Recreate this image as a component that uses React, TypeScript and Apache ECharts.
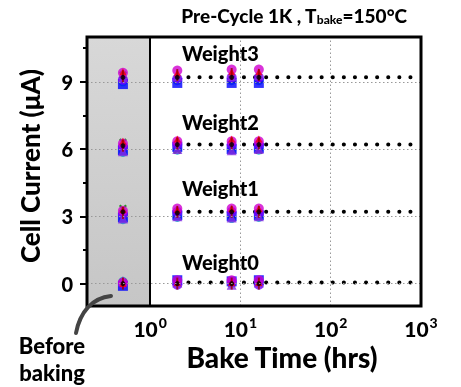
import React, { useEffect, useRef } from 'react';
import * as echarts from 'echarts';

const bakeTimes = [0.5, 2, 8, 16];
const weightNames = ['Weight0', 'Weight1', 'Weight2', 'Weight3'];
const retentionLevels = [0.05, 3.2, 6.2, 9.2];
const projectionStart = 2;
const projectionEnd = 1000;
const yTicks = [0, 3, 6, 9];
const yMinorTicks = [1.5, 4.5, 7.5, 10.5];
const xTicks = [1, 10, 100, 1000];
const gridLinesX = [10, 100];
const bakeStart = 1;

// rows = Weight0..Weight3, columns = bakeTimes
const cellCyan = [[0.1, 0.15, 0.05, 0.1], [2.85, 2.95, 2.9, 2.95], [5.85, 5.95, 5.95, 5.95], [9.0, 9.05, 9.05, 9.05]];
const cellGreen = [[0.05, 0.0, 0.0, 0.0], [3.35, 3.05, 3.05, 3.05], [6.3, 5.95, 5.95, 5.95], [9.3, 9.1, 9.1, 9.1]];
const cellBlue = [[-0.1, 0.15, 0.1, 0.15], [2.95, 3.05, 3.0, 3.05], [5.95, 6.1, 6.0, 6.05], [8.9, 8.95, 8.95, 8.95]];
const cellPurple = [[0.0, -0.05, 0.05, -0.05], [3.1, 3.2, 3.2, 3.15], [6.1, 6.2, 6.2, 6.2], [9.1, 9.15, 9.2, 9.2]];
const cellViolet = [[0.1, 0.05, -0.05, 0.05], [2.9, 3.0, 2.95, 3.0], [5.9, 6.0, 5.95, 6.0], [9.2, 9.25, 9.25, 9.3]];
const cellMagenta = [[0.05, 0.15, 0.15, 0.15], [3.25, 3.35, 3.35, 3.35], [6.25, 6.35, 6.35, 6.35], [9.4, 9.5, 9.55, 9.55]];
const cellRed = [[0.0, 0.05, 0.05, 0.05], [3.3, 3.3, 3.35, 3.35], [6.35, 6.45, 6.45, 6.45], [9.45, 9.4, 9.45, 9.45]];
const cellDarkRed = [[0.0, 0.0, 0.0, 0.0], [3.15, 3.2, 3.2, 3.2], [6.15, 6.25, 6.25, 6.25], [9.25, 9.3, 9.35, 9.3]];
const cellBlack = [[0.0, 0.0, 0.0, 0.0], [3.2, 3.15, 3.2, 3.2], [6.15, 6.2, 6.2, 6.2], [9.2, 9.2, 9.2, 9.2]];

const FONT = 'Lato';

function toPoints(rows: number[][]) {
  const pts: number[][] = [];
  rows.forEach((row) => row.forEach((v, i) => pts.push([bakeTimes[i], v])));
  return pts;
}

export default function App() {
  const ref = useRef<HTMLDivElement>(null);
  useEffect(() => {
    if (!ref.current) return;
    const chart = echarts.init(ref.current, null, { renderer: 'svg' });
    const gl = 87, gt = 37, gr = 421, gb = 306;

    const cells = [
      { name: 'cyan', data: cellCyan, color: '#00b0c8', symbol: 'circle', size: 9 },
      { name: 'green', data: cellGreen, color: '#008000', symbol: 'path://M0,4L4,0L5,1L1,5ZM0,1L1,0L5,4L4,5Z', size: 8 },
      { name: 'blue', data: cellBlue, color: '#0000ff', symbol: 'rect', size: 10 },
      { name: 'purple', data: cellPurple, color: '#7a00ff', symbol: 'circle', size: 10 },
      { name: 'violet', data: cellViolet, color: '#8a2be2', symbol: 'triangle', size: 10 },
      { name: 'magenta', data: cellMagenta, color: '#d000d0', symbol: 'circle', size: 10 },
      { name: 'red', data: cellRed, color: '#ff0000', symbol: 'triangle', size: 7 },
      { name: 'darkred', data: cellDarkRed, color: '#990000', symbol: 'rect', size: [2, 12] },
      { name: 'black', data: cellBlack, color: '#000000', symbol: 'circle', size: 5 },
    ];

    const series: any[] = [];
    series.push({
      type: 'line',
      data: [],
      silent: true,
      markArea: {
        silent: true,
        itemStyle: {
          color: new echarts.graphic.LinearGradient(0, 0, 0, 1, [
            { offset: 0, color: '#d8d8d8' },
            { offset: 1, color: '#c6c6c6' },
          ]),
        },
        data: [[{ xAxis: 0.2 }, { xAxis: bakeStart }]],
      },
      markLine: {
        silent: true,
        symbol: 'none',
        label: { show: false },
        lineStyle: { color: '#999', type: [1.5, 2.5], width: 1 },
        data: [
          ...yTicks.map((v) => ({ yAxis: v })),
          ...gridLinesX.map((v) => ({ xAxis: v })),
          { xAxis: bakeStart, lineStyle: { color: '#000', type: 'solid', width: 2 } },
        ],
      },
    });
    retentionLevels.forEach((lv) => {
      series.push({
        type: 'line',
        data: [[projectionStart, lv], [projectionEnd, lv]],
        symbol: 'none',
        silent: true,
        lineStyle: { color: '#000', width: 4, type: [0.1, 11], cap: 'round' },
        z: 3,
      });
    });
    cells.forEach((c) => {
      series.push({
        type: 'scatter',
        name: c.name,
        data: toPoints(c.data),
        symbol: c.symbol,
        symbolSize: c.size,
        itemStyle: { color: c.color, opacity: 0.8 },
        z: 4,
      });
    });

    const weightTextY = [262, 188, 122, 53];

    chart.setOption({
      animation: false,
      grid: { left: gl, top: gt, right: 461 - gr, bottom: 387 - gb, containLabel: false },
      xAxis: {
        type: 'log',
        logBase: 10,
        min: 0.2,
        max: 1000,
        z: 10,
        axisLine: { show: false },
        axisTick: { show: false },
        splitLine: { show: false },
        minorTick: { show: false },
        axisLabel: {
          customValues: xTicks,
          margin: 9,
          formatter: (v: number) => `{b|10}{s|${Math.round(Math.log10(v))}}`,
          rich: {
            b: { fontFamily: FONT, fontWeight: 900, fontSize: 21, color: '#000' },
            s: { fontFamily: FONT, fontWeight: 900, fontSize: 14, color: '#000', padding: [0, 0, 13, 1] },
          },
        },
      },
      yAxis: [
        {
          type: 'value',
          min: -1,
          max: 11,
          z: 10,
          axisLine: { show: false },
          splitLine: { show: false },
          axisTick: { show: true, customValues: yTicks, length: 7, inside: false, lineStyle: { color: '#000', width: 2 } },
          axisLabel: {
            customValues: yTicks,
            margin: 14,
            fontFamily: FONT,
            fontWeight: 900,
            fontSize: 20,
            color: '#000',
          },
        },
        {
          type: 'value',
          min: -1,
          max: 11,
          position: 'left',
          z: 10,
          axisLine: { show: false },
          splitLine: { show: false },
          axisTick: { show: true, customValues: yMinorTicks, length: 4, inside: false, lineStyle: { color: '#000', width: 2 } },
          axisLabel: { show: false },
        },
      ],
      graphic: [
        {
          type: 'rect',
          z: 100,
          shape: { x: gl, y: gt, width: gr - gl, height: gb - gt },
          style: { fill: 'none', stroke: '#000', lineWidth: 3 },
        },
        {
          type: 'text',
          x: 294,
          y: 15,
          style: {
            text: '{a|Pre-Cycle 1K , T}{sub|bake}{a|=150°C}',
            align: 'center',
            verticalAlign: 'middle',
            rich: {
              a: { fontFamily: FONT, fontWeight: 900, fontSize: 19, fill: '#000' },
              sub: { fontFamily: FONT, fontWeight: 900, fontSize: 12, fill: '#000', padding: [8, 0, 0, 0] },
            },
          },
        },
        ...weightNames.map((w, i) => ({
          type: 'text',
          x: 182,
          y: weightTextY[i],
          z: 50,
          style: {
            text: w,
            fontFamily: FONT,
            fontWeight: 900,
            fontSize: 20,
            fill: '#000',
            align: 'left',
            verticalAlign: 'middle',
          },
        })),
        {
          type: 'text',
          x: 30,
          y: 166,
          rotation: Math.PI / 2,
          style: {
            text: 'Cell Current (μA)',
            fontFamily: FONT,
            fontWeight: 900,
            fontSize: 26,
            fill: '#000',
            align: 'center',
            verticalAlign: 'middle',
          },
        },
        {
          type: 'text',
          x: 282,
          y: 357,
          style: {
            text: 'Bake Time (hrs)',
            fontFamily: FONT,
            fontWeight: 900,
            fontSize: 28,
            fill: '#000',
            align: 'center',
            verticalAlign: 'middle',
          },
        },
        {
          type: 'text',
          x: 52,
          y: 359,
          style: {
            text: 'Before\nbaking',
            fontFamily: FONT,
            fontWeight: 900,
            fontSize: 22,
            lineHeight: 27,
            fill: '#000',
            align: 'center',
            verticalAlign: 'middle',
          },
        },
        {
          type: 'bezierCurve',
          z: 101,
          shape: { x1: 76, y1: 333, x2: 111, y2: 296, cpx1: 80, cpy1: 312, cpx2: 92, cpy2: 298 },
          style: { stroke: '#444', lineWidth: 4, lineCap: 'round', fill: 'none' },
        },
      ],
      series,
    });
    return () => chart.dispose();
  }, []);
  return <div ref={ref} style={{ position: 'fixed', left: 0, top: 0, width: 461, height: 387 }} />;
}
